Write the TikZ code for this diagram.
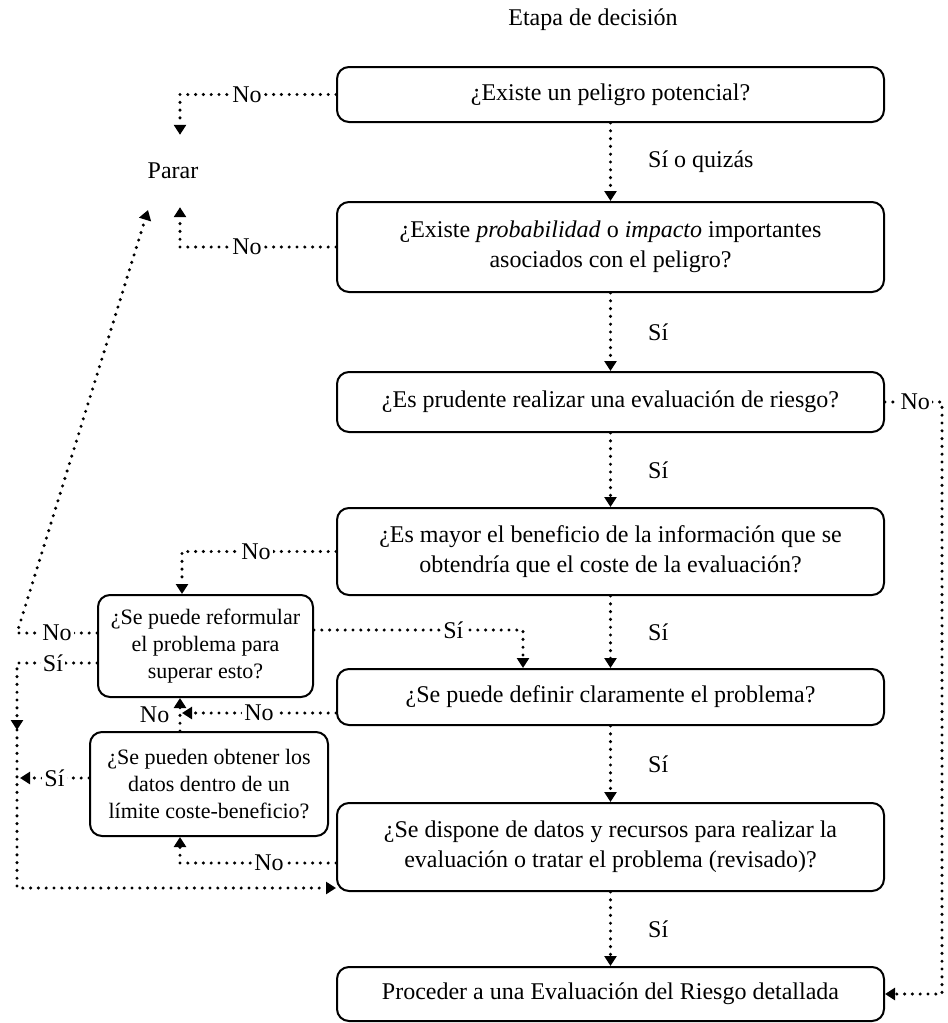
\documentclass[tikz,border=0pt]{standalone}
\usepackage{fontspec}
\setmainfont{Liberation Serif}
\usetikzlibrary{arrows.meta}

\tikzset{
  caja/.style={draw, line width=2pt, rounded corners=12pt, align=center, inner sep=0pt,
    minimum width=547pt, font=\fontsize{24}{30}\selectfont},
  cajita/.style={caja, font=\fontsize{22}{27}\selectfont},
  texto/.style={inner sep=1pt, font=\fontsize{24}{30}\selectfont},
  punteada/.style={line width=3.4pt, dash pattern=on 0pt off 7.8pt, line cap=round},
  flecha/.style={punteada, -{Triangle[width=12pt,length=10pt]}},
  rotulo/.style={texto, fill=white, inner sep=2pt},
  si/.style={texto, right=36pt, inner sep=0pt}
}

\begin{document}
\begin{tikzpicture}[x=1pt,y=-1pt]
  \useasboundingbox (0,0) rectangle (948,1023);

  \node[texto] (titulo) at (593,20) {Etapa de decisión};

  % columna principal
  \node[caja, minimum height=55pt] (p1) at (610.5,94.5) {¿Existe un peligro potencial?};
  \node[caja, minimum height=90pt] (p2) at (610.5,247) {¿Existe \textit{probabilidad} o \textit{impacto} importantes\\asociados con el peligro?};
  \node[caja, minimum height=60pt] (p3) at (610.5,402) {¿Es prudente realizar una evaluación de riesgo?};
  \node[caja, minimum height=87pt] (p4) at (610.5,551.5) {¿Es mayor el beneficio de la información que se\\obtendría que el coste de la evaluación?};
  \node[caja, minimum height=56pt] (p5) at (610.5,697) {¿Se puede definir claramente el problema?};
  \node[caja, minimum height=88pt] (p6) at (610.5,847) {¿Se dispone de datos y recursos para realizar la\\evaluación o tratar el problema (revisado)?};
  \node[caja, minimum height=54pt] (p7) at (610.5,994) {Proceder a una Evaluación del Riesgo detallada};

  % cajas de la izquierda
  \node[cajita, minimum width=215pt, minimum height=102pt] (r1) at (205.5,646) {¿Se puede reformular\\el problema para\\superar esto?};
  \node[cajita, minimum width=238pt, minimum height=104pt] (r2) at (209,784) {¿Se pueden obtener los\\datos dentro de un\\límite coste-beneficio?};
  \node[texto, minimum height=72pt] (parar) at (173,171) {Parar};

  \coordinate (e1) at (180,94.5);
  \coordinate (e2) at (180,247);
  \coordinate (e3) at (942,402);
  \coordinate (e4) at (942,994);
  \coordinate (e5) at (182,551.5);
  \coordinate (e6) at (523,630);
  \coordinate (e7) at (17,633);
  \coordinate (tope) at (148,210);
  \coordinate (e8) at (17,663);
  \coordinate (e9) at (17,730);
  \coordinate (e10) at (182,713);
  \coordinate (e11) at (20,778);
  \coordinate (e12) at (180,863);
  \coordinate (e13) at (17,888);

  % flechas "Sí" hacia abajo
  \draw[flecha] (p1) -- node[si]{Sí o quizás} (p2);
  \draw[flecha] (p2) -- node[si]{Sí} (p3);
  \draw[flecha] (p3) -- node[si]{Sí} (p4);
  \draw[flecha] (p4) -- node[si]{Sí} (p5);
  \draw[flecha] (p5) -- node[si]{Sí} (p6);
  \draw[flecha] (p6) -- node[si]{Sí} (p7);

  % salidas "No"
  \draw[flecha] (p1.west) -- node[rotulo,pos=0.57]{No} (e1) -- (e1 |- parar.north);
  \draw[flecha] (p2.west) -- node[rotulo,pos=0.57]{No} (e2) -- (e2 |- parar.south);
  \draw[flecha] (p3.east) -- node[rotulo,pos=0.53]{No} (e3) -- (e4) -- (p7.east);
  \draw[flecha] (p4.west) -- node[rotulo,pos=0.52]{No} (e5) -- (e5 |- r1.north);
  \draw[flecha] ([yshift=-16pt]p5.west) -- node[rotulo,pos=0.5]{No} (e10);
  \draw[flecha] ([yshift=-16pt]p6.west) -- node[rotulo,pos=0.43]{No} (e12) -- (e12 |- r2.south);
  \draw[flecha] (e12 |- r2.north) -- node[texto,left=8pt]{No} (e12 |- r1.south);

  % reformular / obtener datos
  \draw[flecha] ([yshift=16pt]r1.east) -- node[rotulo,pos=0.667]{Sí} (e6) -- (e6 |- p5.north);
  \draw[flecha] ([yshift=13pt]r1.west) -- node[rotulo,pos=0.5]{No} (e7) -- (tope);
  \draw[flecha] ([yshift=-17pt]r1.west) -- node[rotulo,pos=0.55]{Sí} (e8) -- (e9);
  \draw[flecha] ([yshift=6pt]r2.west) -- node[rotulo,pos=0.5]{Sí} (e11);
  \draw[flecha] (e9) -- (e13) -- (e13 -| p6.west);

\end{tikzpicture}
\end{document}
